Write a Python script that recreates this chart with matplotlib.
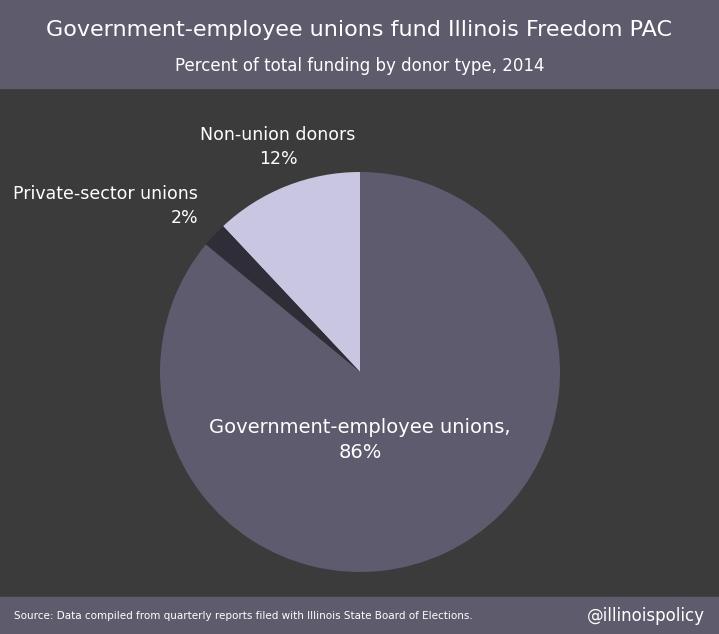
import matplotlib
matplotlib.use('Agg')
import matplotlib.pyplot as plt
from matplotlib.patches import Rectangle

labels = ['Non-union donors', 'Private-sector unions', 'Government-employee unions']
values = [12, 2, 86]
colors = ['#c9c6e2', '#2e2d38', '#5e5b6f']

fig = plt.figure(figsize=(7.19, 6.34), dpi=100)
fig.patch.set_facecolor('#3b3b3b')

# header and footer bands
fig.patches.append(Rectangle((0, 1 - 88 / 634), 1, 88 / 634, transform=fig.transFigure,
                             color='#5e5b6d', zorder=0))
fig.patches.append(Rectangle((0, 0), 1, 37 / 634, transform=fig.transFigure,
                             color='#5e5b6d', zorder=0))
fig.text(0.5, 1 - 30 / 634, 'Government-employee unions fund Illinois Freedom PAC',
         ha='center', va='center', color='white', fontsize=16)
fig.text(0.5, 1 - 66 / 634, 'Percent of total funding by donor type, 2014',
         ha='center', va='center', color='white', fontsize=12)
fig.text(14 / 719, 18 / 634,
         'Source: Data compiled from quarterly reports filed with Illinois State Board of Elections.',
         ha='left', va='center', color='white', fontsize=7.5)
fig.text(705 / 719, 18 / 634, '@illinoispolicy', ha='right', va='center',
         color='white', fontsize=12)

r = 200
cx, cy = 360, 634 - 372
ax = fig.add_axes([(cx - r) / 719, (cy - r) / 634, 2 * r / 719, 2 * r / 634])
ax.pie(values, colors=colors, startangle=90, counterclock=True,
       wedgeprops=dict(linewidth=0))
ax.set_xlim(-1, 1)
ax.set_ylim(-1, 1)
ax.set_aspect('equal')
ax.axis('off')

fig.text(278 / 719, 1 - 147 / 634, 'Non-union donors\n12%', ha='center', va='center',
         color='white', fontsize=12.5, linespacing=1.4)
fig.text(198 / 719, 1 - 206 / 634, 'Private-sector unions\n2%', ha='right', va='center',
         color='white', fontsize=12.5, linespacing=1.4, multialignment='right')
fig.text(360 / 719, 1 - 440 / 634, 'Government-employee unions,\n86%', ha='center',
         va='center', color='white', fontsize=14, linespacing=1.4)

fig.savefig('out.png', dpi=100, facecolor=fig.get_facecolor())
